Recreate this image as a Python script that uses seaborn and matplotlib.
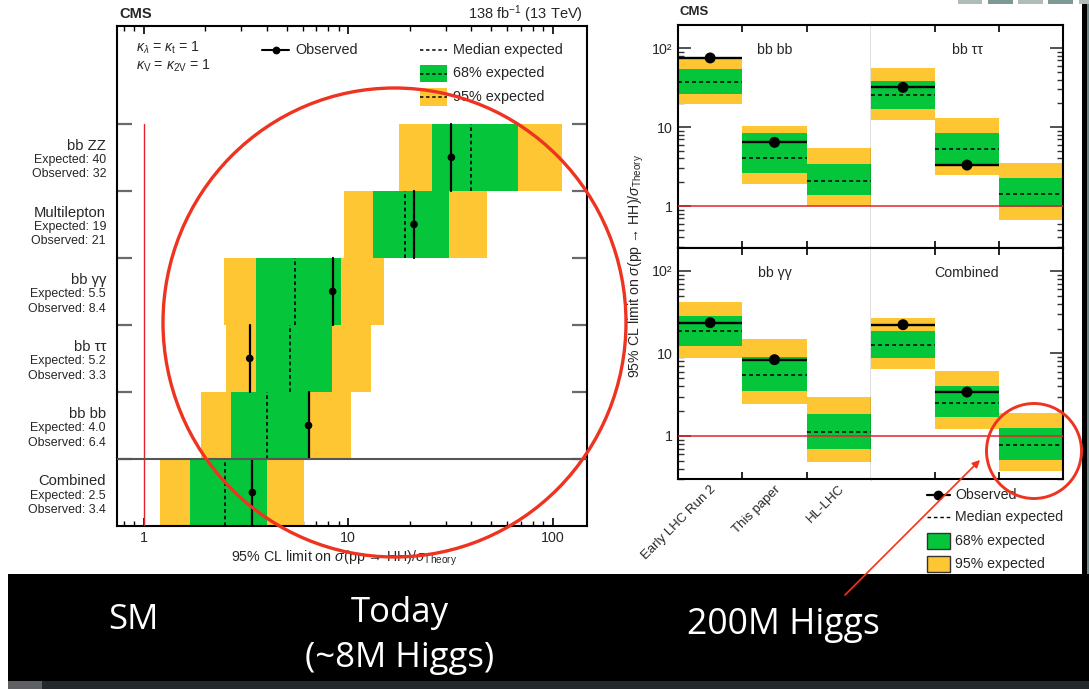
import numpy as np
import pandas as pd
import matplotlib
matplotlib.use("Agg")
import matplotlib.pyplot as plt
import seaborn as sns
from matplotlib.patches import Rectangle, Ellipse, FancyArrowPatch
from matplotlib.lines import Line2D
from matplotlib.transforms import Affine2D
from matplotlib.ticker import (LogLocator, FixedLocator, FixedFormatter,
                               NullFormatter, NullLocator)

# ---------------- current limits per channel (CMS, 138 fb-1) ----------------
channels = ["Combined", "bb bb", "bb ττ", "bb γγ", "Multilepton", "bb ZZ"]
expected = [2.5, 4.0, 5.2, 5.5, 19, 40]
observed = [3.4, 6.4, 3.3, 8.4, 21, 32]
band68_lo = [1.68, 2.67, 3.55, 3.55, 13.3, 25.7]
band68_hi = [4.0, 6.44, 8.34, 9.25, 31.2, 67.8]
band95_lo = [1.2, 1.91, 2.54, 2.47, 9.5, 17.7]
band95_hi = [6.1, 10.3, 12.9, 14.9, 47.8, 111]

# ---------------- evolution of the limits: Run 2 -> HL-LHC ----------------
stages = ["Early LHC Run 2", "This paper", "HL-LHC"]
proj_channels = ["bb bb", "bb ττ", "bb γγ", "Combined"]
proj_obs = [[75, 6.4, np.nan], [31.8, 3.3, np.nan],
            [23.6, 8.4, np.nan], [22.3, 3.4, np.nan]]
proj_med = [[37.5, 4.0, 2.1], [25.4, 5.2, 1.41],
            [18.9, 5.5, 1.11], [12.8, 2.5, 0.77]]
proj_68_lo = [[25.9, 2.64, 1.38], [16.9, 3.25, 0.98],
              [12.4, 3.51, 0.695], [8.74, 1.68, 0.512]]
proj_68_hi = [[53.7, 8.3, 3.43], [38.5, 8.47, 2.24],
              [28.7, 9.15, 1.85], [18.9, 4.0, 1.23]]
proj_95_lo = [[19.5, 1.90, 1.0], [12.3, 2.49, 0.665],
              [8.9, 2.46, 0.484], [6.43, 1.2, 0.38]]
proj_95_hi = [[77, 10.3, 5.47], [56.3, 13.1, 3.47],
              [42.4, 14.9, 2.99], [27.2, 6.14, 1.92]]

# ---------------- captions of the slide ----------------
caption_sm = "SM"
caption_today = ["Today", "(~8M Higgs)"]
caption_future = "200M Higgs"

GREEN = "#05c63a"
YELLOW = "#fec633"
RED = "#e5222b"
MARK = "#ee3420"
XLABEL = r"95% CL limit on $\sigma$(pp → HH)/$\sigma_{\mathrm{Theory}}$"

sns.set_theme(style="ticks")
plt.rcParams["font.family"] = ["Liberation Sans", "DejaVu Sans"]
plt.rcParams["mathtext.fontset"] = "custom"
plt.rcParams["mathtext.rm"] = "Liberation Sans"
plt.rcParams["mathtext.it"] = "Liberation Sans:italic"
plt.rcParams["mathtext.bf"] = "Liberation Sans:bold"

W, H = 1089, 689
fig = plt.figure(figsize=(W / 100, H / 100), dpi=100)
fig.patch.set_facecolor("white")
pix = Affine2D().scale(1 / W, -1 / H).translate(0, 1) + fig.transFigure


def px_axes(x0, y0, x1, y1):
    return fig.add_axes([x0 / W, 1 - y1 / H, (x1 - x0) / W, (y1 - y0) / H])


def fmt(v):
    return f"{v:.1f}" if v < 10 else f"{v:.0f}"


def style_spines(ax, lw=1.5):
    for s in ax.spines.values():
        s.set_color("black")
        s.set_linewidth(lw)
        s.set_visible(True)


# =============== left: limits per channel ===============
ax = px_axes(117, 26, 587, 526)
ax.set_facecolor("white")
style_spines(ax)
ax.set_xscale("log")
rows = np.arange(len(channels))
ax.barh(rows, np.subtract(band95_hi, band95_lo), left=band95_lo, height=1,
        align="edge", color=YELLOW, lw=0, zorder=1)
ax.barh(rows, np.subtract(band68_hi, band68_lo), left=band68_lo, height=1,
        align="edge", color=GREEN, lw=0, zorder=2)
for r, m, o in zip(rows, expected, observed):
    ax.plot([m, m], [r, r + 1], color="black", lw=1.2, dashes=(2.2, 1.8), zorder=3)
    ax.plot([o, o], [r, r + 1], color="black", lw=1.6, zorder=4)
left_df = pd.DataFrame({"limit": observed, "row": rows + 0.5})
sns.scatterplot(data=left_df, x="limit", y="row", ax=ax, color="black",
                s=30, edgecolor="none", zorder=5, legend=False)
ax.plot([1, 1], [0, len(channels)], color=RED, lw=1.0, zorder=3)
ax.axhline(1, color="#555555", lw=1.5, zorder=6)
ax.set_xlim(0.74, 147.4)
ax.set_ylim(0, 7.46)
ax.set_xlabel("")
ax.set_ylabel("")
ax.xaxis.set_major_locator(FixedLocator([1, 10, 100]))
ax.xaxis.set_major_formatter(FixedFormatter(["1", "10", "100"]))
ax.xaxis.set_minor_locator(LogLocator(base=10, subs=np.arange(2, 10)))
ax.xaxis.set_minor_formatter(NullFormatter())
ax.tick_params(axis="x", which="major", direction="in", top=True, bottom=True,
               length=6, width=1.2, labelsize=10.3, pad=3.5, color="black")
ax.tick_params(axis="x", which="minor", direction="in", top=True, bottom=True,
               length=3.6, width=1.0, color="black")
ax.set_yticks(np.arange(1, len(channels) + 1))
ax.set_yticklabels([])
ax.yaxis.set_minor_locator(NullLocator())
ax.tick_params(axis="y", which="major", direction="in", left=True, right=True,
               length=11, width=1.6, color="#6a6a6a")
ytr = ax.get_yaxis_transform()
lab_x = (106 - 117) / 470
for i, ch in enumerate(channels):
    ax.text(lab_x, i + 0.5 + 0.17, ch, transform=ytr, ha="right", va="center",
            fontsize=10.6)
    ax.text(lab_x, i + 0.5 - 0.045, f"Expected: {fmt(expected[i])}", transform=ytr,
            ha="right", va="center", fontsize=8.9)
    ax.text(lab_x, i + 0.5 - 0.255, f"Observed: {fmt(observed[i])}", transform=ytr,
            ha="right", va="center", fontsize=8.9)

fig.text(119, 14, "CMS", transform=pix, ha="left", va="center", fontsize=10.5,
         fontweight="bold")
fig.text(583, 14, r"138 fb$^{-1}$ (13 TeV)", transform=pix, ha="right",
         va="center", fontsize=10.5)
fig.text(344, 558, XLABEL, transform=pix, ha="center", va="center", fontsize=10.3)

# legend of the left panel
fig.text(136, 48, r"$\kappa_{\lambda}$ = $\kappa_{\mathrm{t}}$ = 1", transform=pix,
         ha="left", va="center", fontsize=10.2, zorder=6)
fig.text(136, 66, r"$\kappa_{\mathrm{V}}$ = $\kappa_{\mathrm{2V}}$ = 1", transform=pix,
         ha="left", va="center", fontsize=10.2, zorder=6)
fig.add_artist(Line2D([262, 289], [50, 50], color="black", lw=1.5,
                      transform=pix, zorder=6))
fig.add_artist(Line2D([275.5], [50], color="black", marker="o", ms=4.6,
                      transform=pix, zorder=6))
fig.text(295, 50, "Observed", transform=pix, ha="left", va="center",
         fontsize=10.4, zorder=6)
fig.add_artist(Line2D([420, 447], [50, 50], color="black", lw=1.1,
                      dashes=(2.2, 1.8), transform=pix, zorder=6))
fig.text(453, 50, "Median expected", transform=pix, ha="left", va="center",
         fontsize=10.4, zorder=6)
for (y0, hgt, col, lab) in [(65, 17, GREEN, "68% expected"),
                            (88, 18, YELLOW, "95% expected")]:
    fig.add_artist(Rectangle((420, y0), 27, hgt, facecolor=col, edgecolor="none",
                             transform=pix, zorder=6))
    fig.add_artist(Line2D([420, 447], [y0 + hgt / 2] * 2, color="black", lw=1.1,
                          dashes=(2.2, 1.8), transform=pix, zorder=6))
    fig.text(453, y0 + hgt / 2, lab, transform=pix, ha="left", va="center",
             fontsize=10.4, zorder=6)

# =============== right: projections ===============
boxes = [(678, 25, 871, 248), (871, 25, 1063, 248),
         (678, 248, 871, 479), (871, 248, 1063, 479)]
ylims = [(0.294, 196), (0.294, 196), (0.30, 190), (0.30, 190)]
xs = np.arange(len(stages))
for k, name in enumerate(proj_channels):
    a = px_axes(*boxes[k])
    a.set_facecolor("white")
    style_spines(a)
    a.set_yscale("log")
    lo95, hi95 = np.array(proj_95_lo[k]), np.array(proj_95_hi[k])
    lo68, hi68 = np.array(proj_68_lo[k]), np.array(proj_68_hi[k])
    a.bar(xs, hi95 - lo95, bottom=lo95, width=1, align="edge", color=YELLOW,
          lw=0, zorder=1)
    a.bar(xs, hi68 - lo68, bottom=lo68, width=1, align="edge", color=GREEN,
          lw=0, zorder=2)
    a.axhline(1, color=RED, lw=1.1, zorder=3)
    for j, m in enumerate(proj_med[k]):
        a.plot([j, j + 1], [m, m], color="black", lw=1.1, dashes=(2.6, 2.0), zorder=4)
    obs = np.array(proj_obs[k], dtype=float)
    ok = ~np.isnan(obs)
    a.hlines(obs[ok], xs[ok], xs[ok] + 1, colors="black", lw=1.7, zorder=5)
    odf = pd.DataFrame({"stage": xs[ok] + 0.5, "limit": obs[ok]})
    sns.scatterplot(data=odf, x="stage", y="limit", ax=a, color="black", s=62,
                    edgecolor="none", zorder=6, legend=False)
    a.set_xlim(0, 3)
    a.set_ylim(*ylims[k])
    a.set_xlabel("")
    a.set_ylabel("")
    a.text(0.5, 0.89, name, transform=a.transAxes, ha="center", va="center",
           fontsize=10.2)

    a.xaxis.set_major_locator(FixedLocator(xs + 0.5))
    a.xaxis.set_minor_locator(FixedLocator([1, 2]))
    a.xaxis.set_minor_formatter(NullFormatter())
    if k == 2:
        a.set_xticklabels(stages, rotation=45, ha="right", va="top",
                          rotation_mode="anchor", fontsize=9.5)
    else:
        a.set_xticklabels([])
    a.tick_params(axis="x", which="major", length=0, pad=3)
    a.tick_params(axis="x", which="minor", direction="in", top=True, bottom=True,
                  length=5, width=1.2, color="black")

    a.yaxis.set_major_locator(FixedLocator([1, 10, 100]))
    a.yaxis.set_minor_locator(LogLocator(base=10, subs=np.arange(2, 10)))
    a.yaxis.set_minor_formatter(NullFormatter())
    left_col = k in (0, 2)
    if left_col:
        a.yaxis.set_major_formatter(FixedFormatter(["1", "10", "10²"]))
        a.spines["right"].set_linewidth(0.9)
        a.tick_params(axis="y", which="both", direction="in", left=True, right=False,
                      labelsize=10.3, pad=4, color="#333333")
    else:
        a.yaxis.set_major_formatter(NullFormatter())
        a.spines["left"].set_visible(False)
        a.tick_params(axis="y", which="both", direction="in", left=False, right=True,
                      labelleft=False, color="#333333")
    a.tick_params(axis="y", which="major", length=9.5, width=1.2)
    a.tick_params(axis="y", which="minor", length=4.5, width=1.0)

fig.text(680, 12, "CMS", transform=pix, ha="left", va="center", fontsize=9.5,
         fontweight="bold")
fig.text(636, 266, XLABEL, transform=pix, ha="center", va="center", rotation=90,
         fontsize=10.2)

# legend of the projections
fig.add_artist(Line2D([927, 950], [495, 495], color="black", lw=1.6,
                      transform=pix, zorder=6))
fig.add_artist(Line2D([938], [495], color="black", marker="o", ms=6,
                      transform=pix, zorder=6))
fig.text(955, 495, "Observed", transform=pix, ha="left", va="center",
         fontsize=10.2, zorder=6)
fig.add_artist(Line2D([927, 950], [517, 517], color="black", lw=1.0,
                      dashes=(2.6, 2.0), transform=pix, zorder=6))
fig.text(955, 517, "Median expected", transform=pix, ha="left", va="center",
         fontsize=10.2, zorder=6)
for (y0, col, lab) in [(533, GREEN, "68% expected"), (556, YELLOW, "95% expected")]:
    fig.add_artist(Rectangle((927, y0), 23, 15.5, facecolor=col, edgecolor="#333333",
                             lw=1.0, transform=pix, zorder=6))
    fig.text(955, y0 + 8, lab, transform=pix, ha="left", va="center",
             fontsize=10.2, zorder=6)

# =============== slide decorations ===============
fig.add_artist(Rectangle((8, 574), W - 8, 107, facecolor="black", edgecolor="none",
                         transform=pix, zorder=7))
fig.add_artist(Rectangle((8, 681), W - 8, 8, facecolor="#24272b", edgecolor="none",
                         transform=pix, zorder=7))
fig.add_artist(Rectangle((8, 681), 34, 8, facecolor="#5e6063", edgecolor="none",
                         transform=pix, zorder=8))
fig.add_artist(Rectangle((1082, 4), 5, 570, facecolor="black", edgecolor="none",
                         transform=pix, zorder=7))
fig.add_artist(Rectangle((1087, 4), 2, 570, facecolor="#6f8884", edgecolor="none",
                         transform=pix, zorder=7))
for x0, x1, c in [(958, 982, "#aebdb9"), (988, 1013, "#7e9993"),
                  (1018, 1043, "#aebdb9"), (1048, 1073, "#7e9993"),
                  (1079, 1089, "#aebdb9")]:
    fig.add_artist(Rectangle((x0, 0), x1 - x0, 3.5, facecolor=c, edgecolor="none",
                             transform=pix, zorder=7))

band_font = ["Open Sans", "DejaVu Sans"]
fig.text(133, 620, caption_sm, transform=pix, ha="center", va="center",
         fontsize=25, color="white", family=band_font, zorder=9)
fig.text(400, 613, caption_today[0], transform=pix, ha="center", va="center",
         fontsize=25, color="white", family=band_font, zorder=9)
fig.text(400, 658, caption_today[1], transform=pix, ha="center", va="center",
         fontsize=25, color="white", family=band_font, zorder=9)
fig.text(783, 625, caption_future, transform=pix, ha="center", va="center",
         fontsize=25.6, color="white", family=band_font, zorder=9)

fig.add_artist(Ellipse((394.5, 322.5), 463, 469, fill=False, edgecolor=MARK, lw=2.4,
                       transform=pix, zorder=10))
fig.add_artist(Ellipse((1034, 451), 95, 95, fill=False, edgecolor=MARK, lw=2.1,
                       transform=pix, zorder=10))
fig.add_artist(FancyArrowPatch((843, 597), (982, 458), arrowstyle="-|>",
                               mutation_scale=11, lw=1.2, color=MARK,
                               transform=pix, zorder=10))

fig.savefig("out.png", dpi=100, facecolor="white")
